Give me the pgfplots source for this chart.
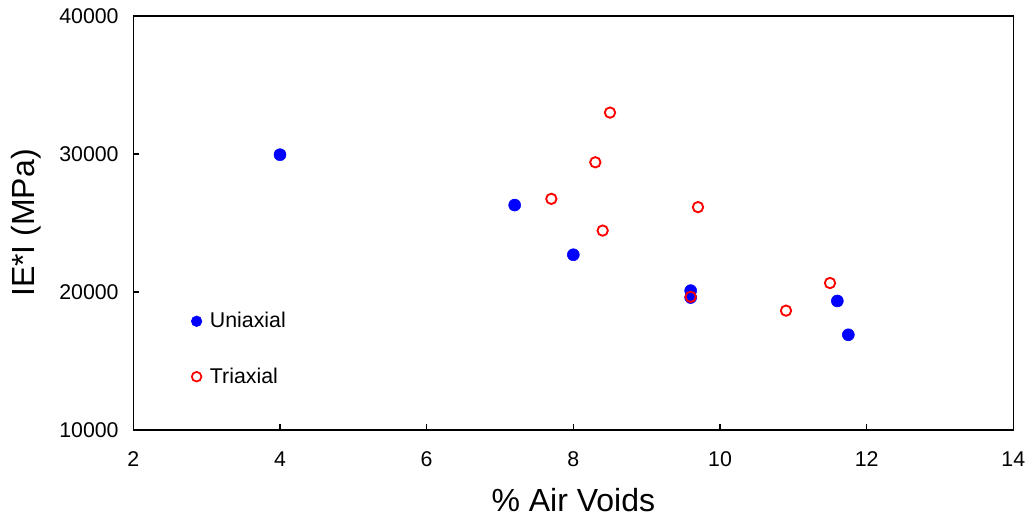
\documentclass[border=0pt]{standalone}
\usepackage{pgfplots}
\pgfplotsset{compat=1.18}
\usepackage{fontspec}
\setmainfont{Liberation Sans}

% modulus versus air void content
\pgfplotstableread{
x y
4.0 29950
7.2 26300
8.0 22700
9.6 20100
9.6 19600
11.6 19350
11.75 16900
}\uniaxial
\pgfplotstableread{
x y
8.5 33000
8.3 29400
7.7 26750
8.4 24450
9.7 26150
9.6 19650
11.5 20650
10.9 18650
}\triaxial

\begin{document}
\begin{tikzpicture}
\path[use as bounding box] (-100pt,-70.5pt) rectangle (673.25pt,322.5pt);
\begin{axis}[
  scale only axis,
  width=660pt, height=310.5pt,
  xmin=2, xmax=14, ymin=10000, ymax=40000,
  xtick={2,4,...,14},
  ytick={10000,20000,30000,40000},
  scaled y ticks=false,
  tick align=inside,
  xtick pos=left, ytick pos=left,
  major tick length=4.5pt,
  axis line style={line width=1pt},
  tick style={line width=0.8pt, black},
  font=\fontsize{16}{19}\selectfont,
  /pgf/number format/assume math mode=true,
  /pgf/number format/set thousands separator={},
  yticklabel style={xshift=-7.5pt},
  xticklabel style={yshift=-13pt},
  xlabel={\% Air Voids},
  ylabel={IE*I (MPa)},
  xlabel style={font=\fontsize{24}{28}\selectfont, at={(axis description cs:0.5,-0.1691)}, anchor=center},
  ylabel style={font=\fontsize{24}{28}\selectfont, at={(axis description cs:-0.1212,0.5)}, anchor=center},
  legend image code/.code={\draw[mark repeat=2,mark phase=2,#1] plot coordinates {(0cm,0cm)(0.15cm,0cm)(0.3cm,0cm)};},
  legend style={draw=none, fill=none, at={(rel axis cs:0.061,0.1957)}, anchor=west,
    row sep=24.5pt, font=\fontsize{16}{19}\selectfont,
    /tikz/every odd column/.append style={column sep=4pt}},
  legend cell align=left,
]
\addplot[only marks, mark=*, mark size=4.5pt, color=blue, forget plot] table[x=x,y=y] {\uniaxial};
\addplot[only marks, mark=o, mark size=3.9pt, color=red, line width=1.4pt, forget plot] table[x=x,y=y] {\triaxial};
\addlegendimage{only marks, mark=*, mark size=4pt, color=blue}
\addlegendentry{Uniaxial}
\addlegendimage{only marks, mark=o, mark size=3.6pt, color=red, line width=1.3pt}
\addlegendentry{Triaxial}
\end{axis}
\end{tikzpicture}
\end{document}
